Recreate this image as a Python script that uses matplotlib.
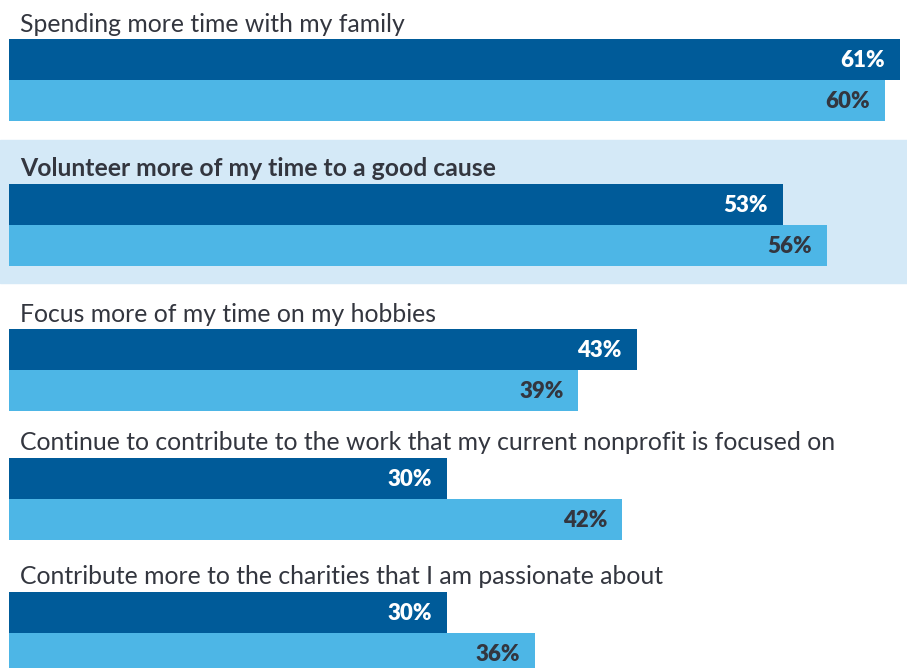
import matplotlib.pyplot as plt

# survey answers and their two series
questions = [
    "Spending more time with my family",
    "Volunteer more of my time to a good cause",
    "Focus more of my time on my hobbies",
    "Continue to contribute to the work that my current nonprofit is focused on",
    "Contribute more to the charities that I am passionate about",
]
series_a = [61, 53, 43, 30, 30]
series_b = [60, 56, 39, 42, 36]
highlighted = 1

DARK = "#005B99"
LIGHT = "#4DB6E6"
SHADE = "#D4E9F7"
TEXT = "#33363F"

# vertical layout in pixels (top of each group's first bar)
group_top = [39, 184, 329, 458, 592]
bar_h = 41
px_per_pct = 14.6
left_px = 9
W, H = 907, 668

fig = plt.figure(figsize=(W / 100, H / 100), dpi=100)
ax = fig.add_axes([0, 0, 1, 1])
ax.set_xlim(-left_px / px_per_pct, (W - left_px) / px_per_pct)
ax.set_ylim(H, 0)
ax.axis("off")

pad = 15 / px_per_pct

for i, q in enumerate(questions):
    top = group_top[i]
    if i == highlighted:
        ax.axhspan(top - 44, top + 2 * bar_h + 17, color=SHADE, zorder=0)
    ax.text(11 / px_per_pct, top - 15, q, fontsize=17.8, color=TEXT,
            family="Lato", fontweight="bold" if i == highlighted else "normal",
            va="center", ha="left")
    ya = top + bar_h / 2
    yb = top + 1.5 * bar_h
    ax.barh(ya, series_a[i], height=bar_h, left=0, color=DARK, zorder=2)
    ax.barh(yb, series_b[i], height=bar_h, left=0, color=LIGHT, zorder=2)
    ax.text(series_a[i] - pad, ya + 1, f"{series_a[i]}%", color="white",
            fontsize=16, fontweight="heavy", family="Lato",
            ha="right", va="center", zorder=3)
    ax.text(series_b[i] - pad, yb + 1, f"{series_b[i]}%", color=TEXT,
            fontsize=16, fontweight="heavy", family="Lato",
            ha="right", va="center", zorder=3)

fig.savefig("out.png", dpi=100)
